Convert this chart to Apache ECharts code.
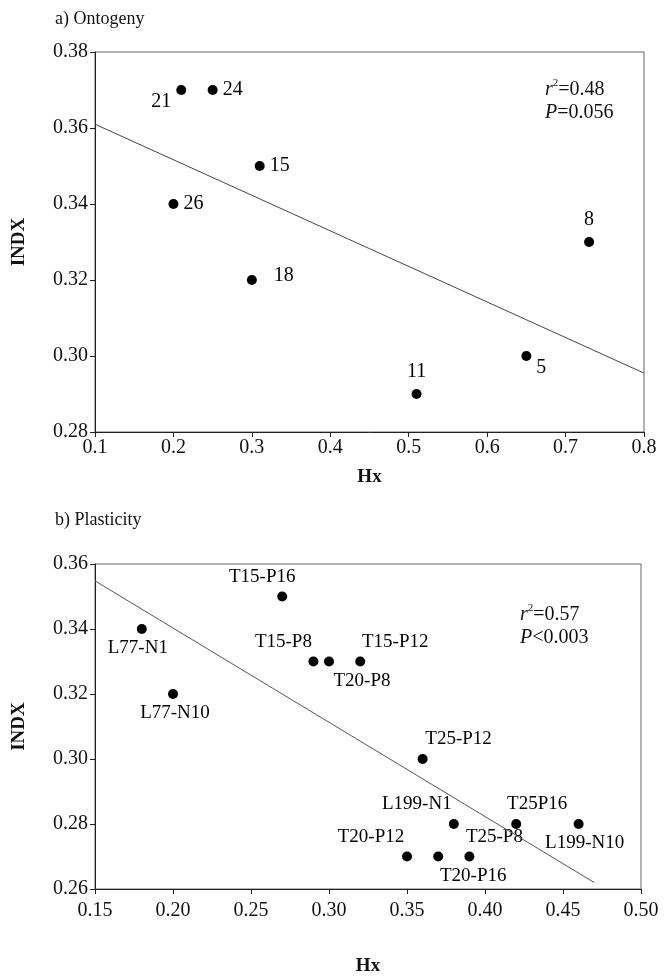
<!DOCTYPE html>
<html><head><meta charset="utf-8">
<script src="https://cdn.jsdelivr.net/npm/echarts@6/dist/echarts.min.js"></script>
<style>html,body{margin:0;padding:0;background:#fff}#c{width:667px;height:977px}</style>
</head><body><div id="c"></div>
<script>
// ---- Data: a) Ontogeny ----
const ontoNames = ['21','24','15','26','18','11','5','8'];
const ontoHx    = [0.21, 0.25, 0.31, 0.20, 0.30, 0.51, 0.65, 0.73];
const ontoINDX  = [0.37, 0.37, 0.35, 0.34, 0.32, 0.29, 0.30, 0.33];
const ontoLineHx   = [0.1, 0.8];
const ontoLineINDX = [0.361, 0.2955];
const ontoXTicks = [0.1,0.2,0.3,0.4,0.5,0.6,0.7,0.8];
const ontoYTicks = [0.28,0.30,0.32,0.34,0.36,0.38];

// ---- Data: b) Plasticity ----
const plasNames = ['T15-P16','L77-N1','T15-P8','T20-P8','T15-P12','L77-N10','T25-P12','L199-N1','T25P16','L199-N10','T20-P12','T20-P16','T25-P8'];
const plasHx    = [0.27, 0.18, 0.29, 0.30, 0.32, 0.20, 0.36, 0.38, 0.42, 0.46, 0.35, 0.37, 0.39];
const plasINDX  = [0.35, 0.34, 0.33, 0.33, 0.33, 0.32, 0.30, 0.28, 0.28, 0.28, 0.27, 0.27, 0.27];
const plasLineHx   = [0.15, 0.47];
const plasLineINDX = [0.3548, 0.262];
const plasXTicks = [0.15,0.20,0.25,0.30,0.35,0.40,0.45,0.50];
const plasYTicks = [0.26,0.28,0.30,0.32,0.34,0.36];

// label placements (side, dx, dy)
const ontoPlace = [['left',0,12],['right',0,0],['right',0,0],['right',0,0],['right',12,-4],['top',0,-2],['right',0,12],['top',0,-2]];
const plasPlace = [['top',-20,0],['bottom',-4,0],['top',-30,0],['bottom',33,0],['top',35,0],['bottom',2,0],['top',36,0],['top',-37,0],['top',21,0],['bottom',6,0],['top',-36,0],['bottom',35,0],['top',25,0]];

const FONT = '"Liberation Serif", "DejaVu Serif", serif';

function pts(xs, ys, names, place) {
  return xs.map((x, i) => ({
    value: [x, ys[i]],
    name: names[i],
    label: { position: place[i][0], offset: [place[i][1], place[i][2]] }
  }));
}
function linePts(xs, ys) { return xs.map((x, i) => [x, ys[i]]); }

const axisCommon = {
  axisLine: { show: true, onZero: false, lineStyle: { color: '#222', width: 1 } },
  axisTick: { show: true, inside: false, length: 5, lineStyle: { color: '#222' } },
  splitLine: { show: false },
  axisLabel: { color: '#111', fontFamily: FONT, fontSize: 20 },
  nameTextStyle: { color: '#111', fontFamily: FONT, fontSize: 19, fontWeight: 'bold' }
};

const chart = echarts.init(document.getElementById('c'));
chart.setOption({
  animation: false,
  backgroundColor: '#fff',
  title: [
    { text: 'a) Ontogeny', left: 50, top: 5, textStyle: { fontFamily: FONT, fontSize: 18, fontWeight: 'normal', color: '#111' } },
    { text: 'b) Plasticity', left: 50, top: 506, textStyle: { fontFamily: FONT, fontSize: 18, fontWeight: 'normal', color: '#111' } }
  ],
  grid: [
    { left: 95, top: 52, width: 549, height: 380, show: true, borderColor: '#666', borderWidth: 1 },
    { left: 95, top: 564, width: 546, height: 325, show: true, borderColor: '#666', borderWidth: 1 }
  ],
  xAxis: [
    Object.assign({}, axisCommon, { gridIndex: 0, type: 'value', min: 0.1, max: 0.8, interval: 0.1,
      name: 'Hx', nameLocation: 'middle', nameGap: 36,
      axisLabel: Object.assign({}, axisCommon.axisLabel, { margin: 6, formatter: v => v.toFixed(1) }) }),
    Object.assign({}, axisCommon, { gridIndex: 1, type: 'value', min: 0.15, max: 0.50, interval: 0.05,
      name: 'Hx', nameLocation: 'middle', nameGap: 68,
      axisLabel: Object.assign({}, axisCommon.axisLabel, { margin: 12, formatter: v => v.toFixed(2) }) })
  ],
  yAxis: [
    Object.assign({}, axisCommon, { gridIndex: 0, type: 'value', min: 0.28, max: 0.38, interval: 0.02,
      name: 'INDX', nameLocation: 'middle', nameGap: 66,
      axisLabel: Object.assign({}, axisCommon.axisLabel, { margin: 7, formatter: v => v.toFixed(2) }) }),
    Object.assign({}, axisCommon, { gridIndex: 1, type: 'value', min: 0.26, max: 0.36, interval: 0.02,
      name: 'INDX', nameLocation: 'middle', nameGap: 66,
      axisLabel: Object.assign({}, axisCommon.axisLabel, { margin: 7, formatter: v => v.toFixed(2) }) })
  ],
  series: [
    { type: 'line', xAxisIndex: 0, yAxisIndex: 0, data: linePts(ontoLineHx, ontoLineINDX),
      symbol: 'none', lineStyle: { color: '#444', width: 1 }, silent: true },
    { type: 'scatter', xAxisIndex: 0, yAxisIndex: 0, data: pts(ontoHx, ontoINDX, ontoNames, ontoPlace),
      symbolSize: 10, itemStyle: { color: '#000', opacity: 1 },
      label: { show: true, formatter: p => p.name, color: '#000', fontFamily: FONT, fontSize: 20, distance: 5 } },
    { type: 'line', xAxisIndex: 1, yAxisIndex: 1, data: linePts(plasLineHx, plasLineINDX),
      symbol: 'none', lineStyle: { color: '#555', width: 1 }, silent: true },
    { type: 'scatter', xAxisIndex: 1, yAxisIndex: 1, data: pts(plasHx, plasINDX, plasNames, plasPlace),
      symbolSize: 10, itemStyle: { color: '#000', opacity: 1 },
      label: { show: true, formatter: p => p.name, color: '#000', fontFamily: FONT, fontSize: 19, distance: 5 } }
  ],
  graphic: [
    { type: 'text', left: 545, top: 78, style: {
      text: '{i|r}{s|2}=0.48\n{i|P}=0.056', fill: '#111', font: '20px ' + FONT, lineHeight: 23,
      rich: { i: { fontStyle: 'italic', fontFamily: FONT, fontSize: 20 }, s: { fontFamily: FONT, fontSize: 11, verticalAlign: 'top', padding: [0,0,8,0] } } } },
    { type: 'text', left: 520, top: 603, style: {
      text: '{i|r}{s|2}=0.57\n{i|P}<0.003', fill: '#111', font: '20px ' + FONT, lineHeight: 23,
      rich: { i: { fontStyle: 'italic', fontFamily: FONT, fontSize: 20 }, s: { fontFamily: FONT, fontSize: 11, verticalAlign: 'top', padding: [0,0,8,0] } } } }
  ]
});
</script></body></html>
